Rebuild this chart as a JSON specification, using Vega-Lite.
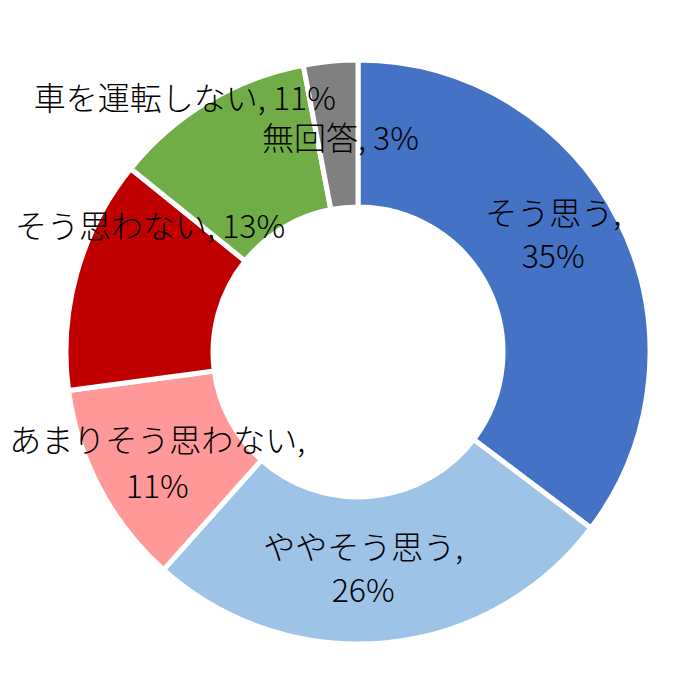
{
  "$schema": "https://vega.github.io/schema/vega-lite/v6.json",
  "description": "Donut chart of survey answers (Japanese).",
  "width": 700,
  "height": 700,
  "autosize": {"type": "fit", "contains": "padding"},
  "padding": {"left": 16, "top": 4, "right": 0, "bottom": 0},
  "background": "white",
  "config": {"view": {"stroke": null}},
  "data": {
    "values": [
      {"order": 1, "category": "そう思う", "value": 35.3, "label": "そう思う,\n35%"},
      {"order": 2, "category": "ややそう思う", "value": 26.3, "label": "ややそう思う,\n26%"},
      {"order": 3, "category": "あまりそう思わない", "value": 11.3, "label": "あまりそう思わない,\n11%"},
      {"order": 4, "category": "そう思わない", "value": 12.9, "label": "そう思わない, 13%"},
      {"order": 5, "category": "車を運転しない", "value": 11.2, "label": "車を運転しない, 11%"},
      {"order": 6, "category": "無回答", "value": 3.0, "label": "無回答, 3%"}
    ]
  },
  "encoding": {
    "theta": {"field": "value", "type": "quantitative", "stack": true},
    "order": {"field": "order", "type": "quantitative"}
  },
  "layer": [
    {
      "mark": {"type": "arc", "outerRadius": 292, "innerRadius": 145, "stroke": "white", "strokeWidth": 5},
      "encoding": {
        "color": {
          "field": "category",
          "type": "nominal",
          "sort": null,
          "scale": {
            "domain": ["そう思う", "ややそう思う", "あまりそう思わない", "そう思わない", "車を運転しない", "無回答"],
            "range": ["#4472C4", "#9DC3E6", "#FF9999", "#C00000", "#70AD47", "#808080"]
          },
          "legend": null
        }
      }
    },
    {
      "mark": {"type": "text", "radius": 218, "font": "Noto Sans CJK JP", "fontSize": 32, "fontWeight": 300, "lineBreak": "\n", "lineHeight": 43, "dy": -40, "color": "black"},
      "encoding": {"text": {"condition": {"test": "datum.order == 1", "field": "label"}, "value": ""}}
    },
    {
      "mark": {"type": "text", "radius": 218, "font": "Noto Sans CJK JP", "fontSize": 32, "fontWeight": 300, "lineBreak": "\n", "lineHeight": 43, "dx": -16, "dy": -20, "color": "black"},
      "encoding": {"text": {"condition": {"test": "datum.order == 2", "field": "label"}, "value": ""}}
    },
    {
      "mark": {"type": "text", "radius": 218, "font": "Noto Sans CJK JP", "fontSize": 32, "fontWeight": 300, "lineBreak": "\n", "lineHeight": 46, "dx": -8, "dy": -12, "color": "black"},
      "encoding": {"text": {"condition": {"test": "datum.order == 3", "field": "label"}, "value": ""}}
    },
    {
      "mark": {"type": "text", "radius": 218, "font": "Noto Sans CJK JP", "fontSize": 32, "fontWeight": 300, "dx": 2, "dy": -65, "color": "black"},
      "encoding": {"text": {"condition": {"test": "datum.order == 4", "field": "label"}, "value": ""}}
    },
    {
      "mark": {"type": "text", "radius": 218, "font": "Noto Sans CJK JP", "fontSize": 32, "fontWeight": 300, "dx": -61, "dy": -65, "color": "black"},
      "encoding": {"text": {"condition": {"test": "datum.order == 5", "field": "label"}, "value": ""}}
    },
    {
      "mark": {"type": "text", "radius": 218, "font": "Noto Sans CJK JP", "fontSize": 32, "fontWeight": 300, "dx": 3, "dy": 5, "color": "black"},
      "encoding": {"text": {"condition": {"test": "datum.order == 6", "field": "label"}, "value": ""}}
    }
  ]
}
